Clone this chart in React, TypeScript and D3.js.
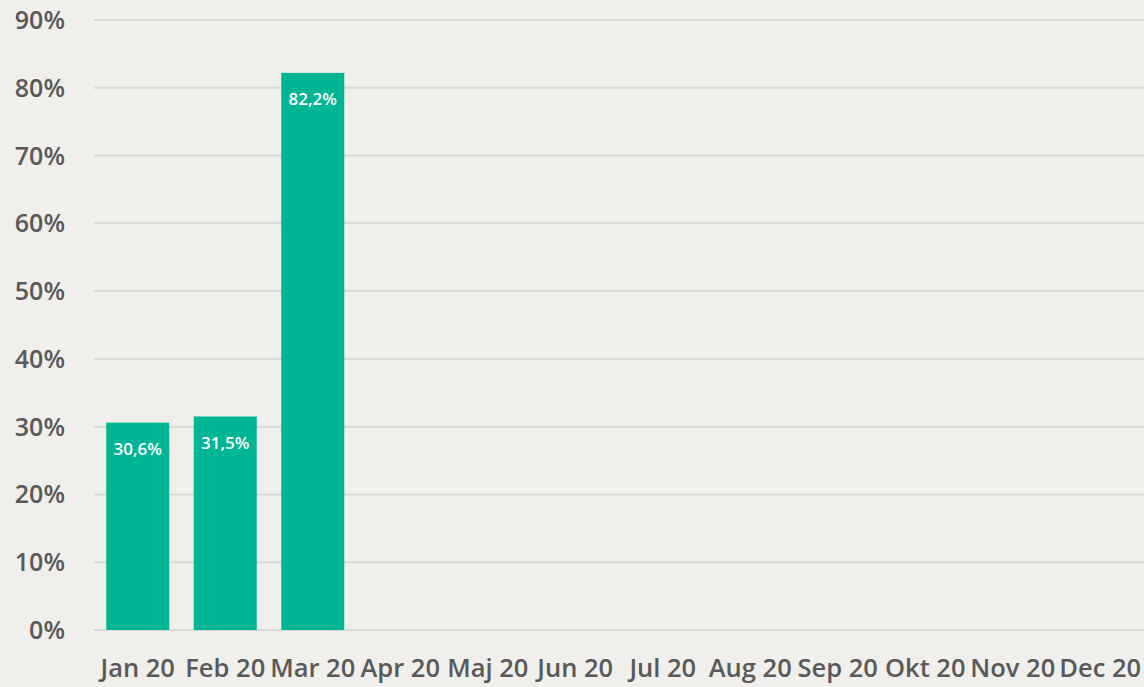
import React from "react";
import * as d3 from "d3";

const categories = ["Jan 20","Feb 20","Mar 20","Apr 20","Maj 20","Jun 20","Jul 20","Aug 20","Sep 20","Okt 20","Nov 20","Dec 20"];
const values: (number | null)[] = [30.6, 31.5, 82.2, null, null, null, null, null, null, null, null, null];
const yTicks = [0, 10, 20, 30, 40, 50, 60, 70, 80, 90];

const W = 1144, H = 687;
const left = 94, right = 1144, top = 20, bottom = 630;

export default function App() {
  const x = d3.scaleBand<string>().domain(categories).range([left, right]).paddingInner(0.28).paddingOuter(0.14);
  const y = d3.scaleLinear().domain([0, 90]).range([bottom, top]);
  const fmt = (v: number) => v.toFixed(1).replace(".", ",") + "%";
  const font = "'Open Sans', 'Noto Sans', sans-serif";
  return (
    <div style={{ position: "absolute", left: 0, top: 0 }}>
      <svg width={W} height={H} style={{ display: "block", background: "#f0efeb" }}>
        <rect x={0} y={0} width={W} height={H} fill="#f0efeb" />
        {yTicks.map(t => (
          <g key={t}>
            <line x1={left} x2={right} y1={y(t)} y2={y(t)} stroke="#d9d9d9" strokeWidth={2} />
            <text x={65} y={y(t)} dy="0.36em" textAnchor="end" fontFamily={font} fontWeight={600} fontSize={25} fill="#595959">{t}%</text>
          </g>
        ))}
        {categories.map((c, i) => {
          const v = values[i];
          if (v == null) return null;
          return (
            <g key={c}>
              <rect x={x(c)} y={y(v)} width={x.bandwidth()} height={bottom - y(v)} fill="#00b593" />
              <text x={x(c)! + x.bandwidth() / 2} y={y(v) + 32.5} textAnchor="middle" fontFamily={font} fontWeight={600} fontSize={17} fill="#ffffff">{fmt(v)}</text>
            </g>
          );
        })}
        {categories.map(c => (
          <text key={c} x={x(c)! + x.bandwidth() / 2} y={677} textAnchor="middle" fontFamily={font} fontWeight={600} fontSize={25.5} fill="#595959">{c}</text>
        ))}
      </svg>
    </div>
  );
}
